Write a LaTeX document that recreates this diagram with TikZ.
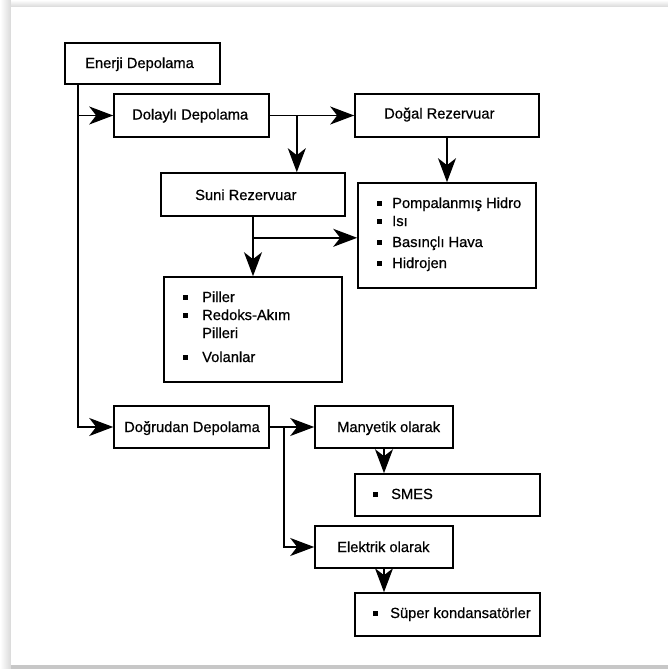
\documentclass[tikz,border=0pt]{standalone}
\usepackage{fontspec}
\setmainfont{Liberation Sans}[FakeBold=0.6]
\usetikzlibrary{arrows.meta}
\begin{document}
\begin{tikzpicture}[x=1pt,y=-1pt,
  box/.style={draw, line width=1.6pt, inner sep=0pt, rectangle},
  txt/.style={anchor=base west, inner sep=0pt, font=\fontsize{14.7}{17}\selectfont},
  arr/.style={line width=1.6pt, -{Stealth[length=24pt,width=18pt,inset=7pt]}},
  bul/.style={fill=black}
  ]
\useasboundingbox (0,0) rectangle (668,669);
% page and shadow
\shade[left color=white, right color=black!15] (0,0) rectangle (11,669);
\shade[top color=white, bottom color=black!15] (11,0) rectangle (668,7);
\fill[black!22] (11,665) rectangle (668,669);
\fill[white] (11,7) rectangle (668,665);

% boxes
\node[box, minimum width=155pt, minimum height=41pt] (enerji) at (142.5,63.5) {};
\node[box, minimum width=155pt, minimum height=43pt] (dolayli) at (191.5,115.5) {};
\node[box, minimum width=184pt, minimum height=43pt] (dogal) at (447,115.5) {};
\node[box, minimum width=184pt, minimum height=43pt] (suni) at (253,194.5) {};
\node[box, minimum width=178pt, minimum height=105pt] (hydro) at (447,235.5) {};
\node[box, minimum width=178pt, minimum height=105pt] (piller) at (253,329.5) {};
\node[box, minimum width=155pt, minimum height=42pt] (dogrudan) at (191.5,427) {};
\node[box, minimum width=138pt, minimum height=42pt] (manyetik) at (384,427) {};
\node[box, minimum width=185pt, minimum height=42pt] (smes) at (447.5,495) {};
\node[box, minimum width=138pt, minimum height=42pt] (elektrik) at (384,547) {};
\node[box, minimum width=185pt, minimum height=43pt] (super) at (447.5,614.5) {};

% texts
\node[txt] (tenerji) at (85,68) {Enerji Depolama};
\node[txt] (tdolayli) at (132,119.5) {Dolaylı Depolama};
\node[txt] (tdogal) at (384,118.5) {Doğal Rezervuar};
\node[txt] (tsuni) at (195,200) {Suni Rezervuar};
\node[txt] (tdogrudan) at (124,432) {Doğrudan Depolama};
\node[txt] (tmanyetik) at (337,432) {Manyetik olarak};
\node[txt] (telektrik) at (337,552) {Elektrik olarak};
\node[txt] (tsmes) at (391,499) {SMES};
\node[txt] (tsuper) at (390,618) {Süper kondansatörler};
\node[txt] (th1) at (392,208) {Pompalanmış Hidro};
\node[txt] (th2) at (392,226) {Isı};
\node[txt] (th3) at (392,247) {Basınçlı Hava};
\node[txt] (th4) at (392,268) {Hidrojen};
\node[txt] (tp1) at (202,302) {Piller};
\node[txt] (tp2) at (202,320) {Redoks-Akım};
\node[txt] (tp3) at (202,338) {Pilleri};
\node[txt] (tp4) at (202,362) {Volanlar};

% bullets
\fill[bul] (372.5,491.5) rectangle ++(5,5);
\fill[bul] (372.5,610.5) rectangle ++(5,5);
\fill[bul] (376.5,200.5) rectangle ++(5,5);
\fill[bul] (376.5,218.5) rectangle ++(5,5);
\fill[bul] (376.5,239.5) rectangle ++(5,5);
\fill[bul] (376.5,260.5) rectangle ++(5,5);
\fill[bul] (182.5,294.5) rectangle ++(5,5);
\fill[bul] (182.5,312.5) rectangle ++(5,5);
\fill[bul] (182.5,354.5) rectangle ++(5,5);

% connectors
\coordinate (trunk) at ([xshift=14pt]enerji.south west);
\draw[arr] (trunk) |- (dolayli.west);
\draw[arr] (trunk) |- (dogrudan.west);
\draw[arr] (dolayli.east) -- (dogal.west);
\coordinate (dsplit) at ([xshift=27pt]dolayli.east);
\draw[arr] (dsplit) -- (dsplit |- suni.north);
\draw[arr] (dogal.south) -- (hydro.north);
\draw[arr] (suni.south) -- (piller.north);
\coordinate (ssplit) at ([yshift=-21pt]suni.south);
\draw[arr] (ssplit) -- (ssplit -| hydro.west);
\draw[arr] (dogrudan.east) -- (manyetik.west);
\coordinate (gsplit) at ([xshift=14pt]dogrudan.east);
\draw[arr] (gsplit) |- (elektrik.west);
\draw[arr] (manyetik.south) -- (manyetik.south |- smes.north);
\draw[arr] (elektrik.south) -- (elektrik.south |- super.north);
\end{tikzpicture}
\end{document}
